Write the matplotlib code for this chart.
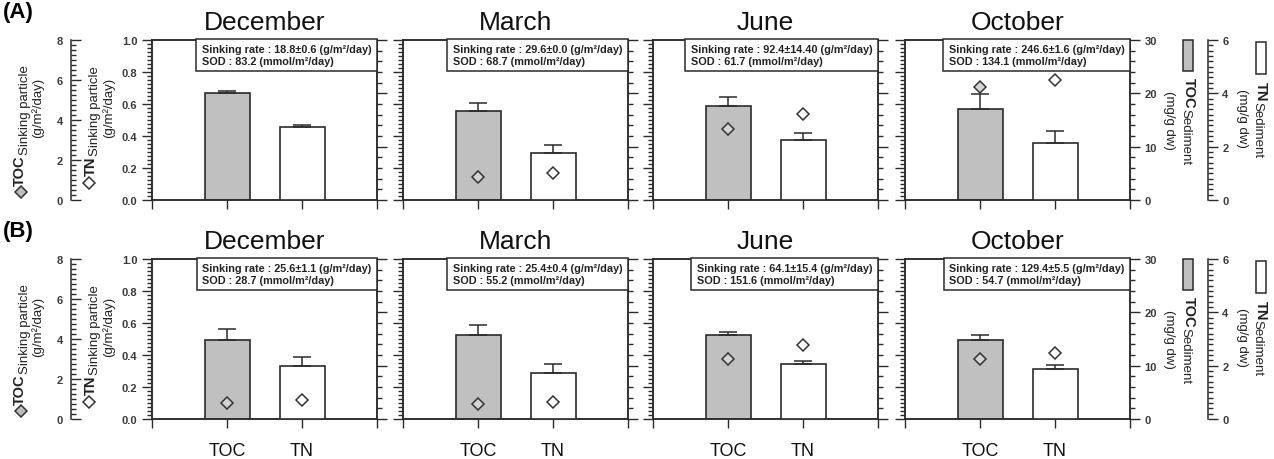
import numpy as np
import matplotlib
matplotlib.use("Agg")
import matplotlib.pyplot as plt
from matplotlib.ticker import MultipleLocator
from matplotlib.patches import Rectangle
from matplotlib.lines import Line2D

plt.rcParams["font.family"] = ["Liberation Sans", "DejaVu Sans"]

months = ["December", "March", "June", "October"]
categories = ["TOC", "TN"]

# (A) -- bars: sediment content, diamonds: sinking particle content
toc_sed_A = [20.0, 16.7, 17.7, 17.1]
toc_sed_err_A = [0.5, 1.5, 1.7, 2.7]
tn_sed_A = [2.73, 1.76, 2.26, 2.14]
tn_sed_err_A = [0.08, 0.30, 0.25, 0.46]
toc_sink_A = [np.nan, 1.13, 3.55, 5.63]
tn_sink_A = [np.nan, 0.17, 0.54, 0.75]
rate_A = ["18.8±0.6", "29.6±0.0", "92.4±14.40", "246.6±1.6"]
sod_A = ["83.2", "68.7", "61.7", "134.1"]

# (B)
toc_sed_B = [14.9, 15.7, 15.8, 14.9]
toc_sed_err_B = [2.0, 1.9, 0.6, 0.9]
tn_sed_B = [2.00, 1.71, 2.05, 1.89]
tn_sed_err_B = [0.31, 0.34, 0.13, 0.12]
toc_sink_B = [0.79, 0.74, 3.02, 3.02]
tn_sink_B = [0.12, 0.105, 0.465, 0.41]
rate_B = ["25.6±1.1", "25.4±0.4", "64.1±15.4", "129.4±5.5"]
sod_B = ["28.7", "55.2", "151.6", "54.7"]

rows = [
    ("(A)", toc_sed_A, toc_sed_err_A, tn_sed_A, tn_sed_err_A, toc_sink_A, tn_sink_A, rate_A, sod_A),
    ("(B)", toc_sed_B, toc_sed_err_B, tn_sed_B, tn_sed_err_B, toc_sink_B, tn_sink_B, rate_B, sod_B),
]

W, H = 1274, 460
fig = plt.figure(figsize=(W / 100, H / 100), dpi=100)


def fx(px):
    return px / W


def fy(py):
    return 1 - py / H


GREY = "#c0c0c0"
EDGE = "#2b2b2b"
TICKC = "#3a3a3a"
panel_lefts = [152, 403, 653, 905]
panel_w = 225
row_tops = [41, 260]
row_h = 160


def hide(a):
    for s in a.spines.values():
        s.set_visible(False)
    a.set_yticks([])


def style_ticks(a, side, direction, labels):
    kw = {side: True, "label" + side: labels}
    a.tick_params(axis="y", which="both", direction=direction, colors=EDGE,
                  labelcolor=TICKC, labelsize=8, width=1, **kw)
    a.tick_params(axis="y", which="major", length=7)
    a.tick_params(axis="y", which="minor", length=3.5)
    for lab in a.get_yticklabels():
        lab.set_fontweight("bold")


renderer = fig.canvas.get_renderer()


def split_label(x, y, bold, rest, rot, sub_dx, bsize=10.5):
    # bold prefix followed by a slightly offset regular part, rotated
    va = "bottom" if rot == 90 else "top"
    t1 = fig.text(fx(x), fy(y), bold, rotation=rot, ha="center", va=va,
                  fontsize=bsize, fontweight="bold", color="#222")
    ext = t1.get_window_extent(renderer)
    y2 = y - ext.height if rot == 90 else y + ext.height
    fig.text(fx(x + sub_dx), fy(y2), rest, rotation=rot, ha="center", va=va,
             fontsize=9.5, color="#222")


for r, (tag, toc_sed, toc_err, tn_sed, tn_err, toc_sink, tn_sink, rates, sods) in enumerate(rows):
    top = row_tops[r]
    for i, m in enumerate(months):
        ax = fig.add_axes([fx(panel_lefts[i]), fy(top + row_h), fx(panel_w), row_h / H])
        ax.set_xlim(0, 3)
        ax.set_ylim(0, 1.0)
        ax.set_xticks([0, 1, 2, 3])
        ax.set_xticklabels([""] + (categories if r == 1 else ["", ""]) + [""])
        ax.tick_params(axis="x", direction="out", length=6.5, width=1, colors=EDGE,
                       labelsize=13, pad=10, labelcolor="#111")
        ax.yaxis.set_major_locator(MultipleLocator(0.2))
        ax.yaxis.set_minor_locator(MultipleLocator(0.025))
        for s in ax.spines.values():
            s.set_linewidth(1.1)
            s.set_color(EDGE)
        ax.set_title(m, fontsize=19, pad=8, color="#111")

        # right axis: TOC sediment (mg/g dw)
        axr = ax.twinx()
        axr.set_ylim(0, 30)
        axr.yaxis.set_major_locator(MultipleLocator(10))
        axr.yaxis.set_minor_locator(MultipleLocator(2))
        for s in axr.spines.values():
            s.set_linewidth(1.1)
            s.set_color(EDGE)

        axn = ax.twinx()  # TN sediment
        axn.set_ylim(0, 6)
        axt = ax.twinx()  # TOC sinking particle
        axt.set_ylim(0, 8)
        axd = ax.twinx()  # TN sinking particle
        axd.set_ylim(0, 1.0)
        hide(axd)

        style_ticks(ax, "left", "out", i == 0)
        ax.tick_params(axis="y", right=False)
        style_ticks(axr, "right", "out", i == 3)
        axr.tick_params(axis="y", left=False)

        if i == 3:
            for k in ["left", "top", "bottom"]:
                axn.spines[k].set_visible(False)
            axn.spines["right"].set_position(("outward", 56))
            axn.spines["right"].set_linewidth(1.1)
            axn.spines["right"].set_color(EDGE)
            axn.yaxis.set_major_locator(MultipleLocator(2))
            axn.yaxis.set_minor_locator(MultipleLocator(0.2))
            style_ticks(axn, "right", "out", True)
        else:
            hide(axn)

        if i == 0:
            for k in ["right", "top", "bottom"]:
                axt.spines[k].set_visible(False)
            axt.spines["left"].set_position(("outward", 58))
            axt.spines["left"].set_linewidth(1.1)
            axt.spines["left"].set_color(EDGE)
            axt.yaxis.set_ticks_position("left")
            axt.yaxis.set_major_locator(MultipleLocator(2))
            axt.yaxis.set_minor_locator(MultipleLocator(0.25))
            style_ticks(axt, "left", "in", True)
            axt.tick_params(axis="y", right=False, labelright=False, pad=6)
        else:
            hide(axt)

        ekw = dict(fmt="none", ecolor=EDGE, elinewidth=1.1, capsize=6.5, capthick=1.1)
        axr.bar(1, toc_sed[i], width=0.6, color=GREY, edgecolor=EDGE, linewidth=1.2)
        axr.errorbar(1, toc_sed[i], yerr=[[0], [toc_err[i]]], **ekw)
        axn.bar(2, tn_sed[i], width=0.6, color="white", edgecolor=EDGE, linewidth=1.2)
        axn.errorbar(2, tn_sed[i], yerr=[[0], [tn_err[i]]], **ekw)

        axt.plot([1], [toc_sink[i]], "D", ms=6.5, mfc="#d4d4d4", mec="#333", mew=1.1,
                 clip_on=False)
        axd.plot([2], [tn_sink[i]], "D", ms=6.5, mfc="white", mec="#333", mew=1.1,
                 clip_on=False)

        axd.text(0.975, 0.975,
                 f"Sinking rate : {rates[i]} (g/m²/day)\nSOD : {sods[i]} (mmol/m²/day)",
                 transform=axd.transAxes, ha="right", va="top", multialignment="left",
                 fontsize=7.8, fontweight="bold", color="#222", linespacing=1.25,
                 bbox=dict(boxstyle="square,pad=0.5", fc="white", ec=EDGE, lw=1.1))

    dy = top - 41
    fig.text(0.002, fy(2 + dy), tag, fontsize=16, fontweight="bold", va="top", ha="left")

    # left axis labels
    fig.add_artist(Line2D([fx(21)], [fy(193 + dy)], marker="D", ms=6.5, mfc="#bdbdbd",
                          mec="#333", mew=1.1, transform=fig.transFigure))
    split_label(20, 186 + dy, "TOC", "Sinking particle", 90, 5)
    fig.text(fx(38), fy(108 + dy), "(g/m²/day)", rotation=90, ha="center", va="center",
             fontsize=9.5, color="#222")
    fig.add_artist(Line2D([fx(89)], [fy(184 + dy)], marker="D", ms=6.5, mfc="white",
                          mec="#333", mew=1.1, transform=fig.transFigure))
    split_label(91, 176 + dy, "TN", "Sinking particle", 90, 4)
    fig.text(fx(109), fy(108 + dy), "(g/m²/day)", rotation=90, ha="center", va="center",
             fontsize=9.5, color="#222")

    # right axis labels with bar keys
    fig.add_artist(Rectangle((fx(1183), fy(72 + dy)), fx(10), 31 / H, fc=GREY, ec=EDGE,
                             lw=1.1, transform=fig.transFigure))
    split_label(1189, 78 + dy, "TOC", "Sediment", 270, -4)
    fig.text(fx(1169), fy(120 + dy), "(mg/g dw)", rotation=270, ha="center", va="center",
             fontsize=9.5, color="#222")
    fig.add_artist(Rectangle((fx(1256), fy(75 + dy)), fx(10), 32 / H, fc="white", ec=EDGE,
                             lw=1.1, transform=fig.transFigure))
    split_label(1261, 82 + dy, "TN", "Sediment", 270, -4)
    fig.text(fx(1242), fy(118 + dy), "(mg/g dw)", rotation=270, ha="center", va="center",
             fontsize=9.5, color="#222")

fig.savefig("out.png", dpi=100, facecolor="white")
